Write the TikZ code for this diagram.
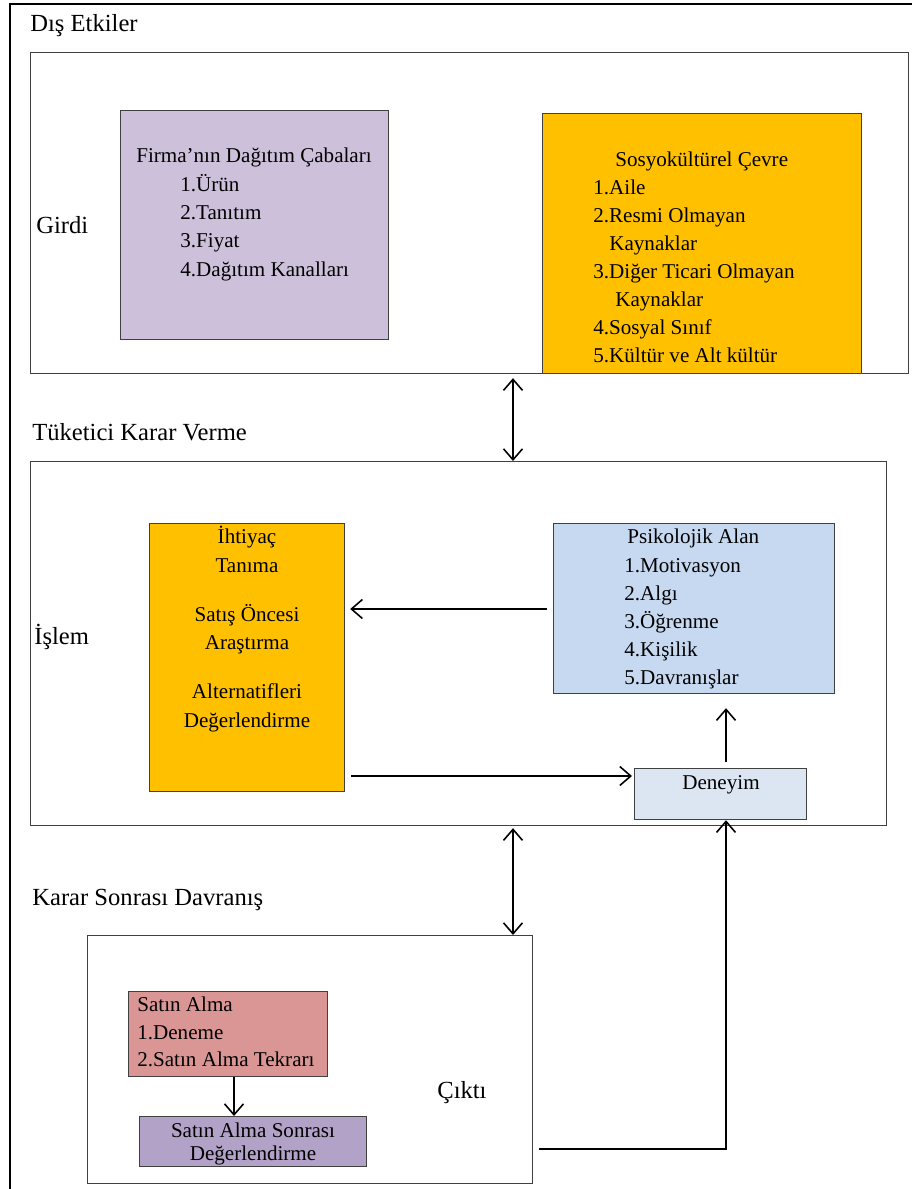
\documentclass[tikz,border=0pt]{standalone}
\usepackage{fontspec}
\setmainfont{Liberation Serif}
\usetikzlibrary{arrows.meta}
\definecolor{kenar}{HTML}{404040}
\definecolor{lila}{HTML}{CCC0DA}
\definecolor{turuncu}{HTML}{FFC000}
\definecolor{mavi}{HTML}{C6D9F1}
\definecolor{acikmavi}{HTML}{DCE6F2}
\definecolor{gul}{HTML}{DA9694}
\definecolor{mor}{HTML}{B3A2C7}
\tikzset{
  kutu/.style={draw=kenar,line width=0.7pt,anchor=north west,inner sep=0pt},
  yazi/.style={font=\fontsize{12}{15}\selectfont,inner sep=0pt,anchor=base west},
  baslik/.style={font=\fontsize{14}{17}\selectfont,inner sep=0pt,anchor=base west},
  ok/.style={-{Straight Barb[length=2.2mm,width=3.8mm]},line width=0.9pt},
  cift/.style={{Straight Barb[length=2.2mm,width=3.8mm]}-{Straight Barb[length=2.2mm,width=3.8mm]},line width=0.9pt}
}
\begin{document}
\begin{tikzpicture}[x=0.02cm,y=-0.02cm]
    \useasboundingbox (0,0) rectangle (912,1189);
    \draw[line width=1.7pt] (10,1200) -- (10,4) -- (930,4);
    % kutular
    \node[kutu,minimum width=17.56cm,minimum height=6.42cm] (dis) at (30,52) {};
    \node[kutu,fill=lila,minimum width=5.36cm,minimum height=4.58cm] (firma) at (120,110) {};
    \node[kutu,fill=turuncu,minimum width=6.38cm,minimum height=5.2cm] (sosyo) at (542,113) {};
    \node[kutu,minimum width=17.12cm,minimum height=7.28cm] (tuketici) at (30,461) {};
    \node[kutu,fill=turuncu,minimum width=3.9cm,minimum height=5.36cm] (ihtiyac) at (149,523) {};
    \node[kutu,fill=mavi,minimum width=5.62cm,minimum height=3.4cm] (psik) at (553,523) {};
    \node[kutu,fill=acikmavi,minimum width=3.44cm,minimum height=1.02cm] (deneyim) at (634,768) {};
    \node[kutu,minimum width=8.9cm,minimum height=4.96cm] (karar) at (87,935) {};
    \node[kutu,fill=gul,minimum width=3.98cm,minimum height=1.7cm] (satin) at (128,991) {};
    \node[kutu,fill=mor,minimum width=4.54cm,minimum height=1.0cm] (sonra) at (139,1116) {};
    % basliklar
    \node[baslik] (b1) at (30,32) {Dış Etkiler};
    \node[baslik] (b2) at (36,234) {Girdi};
    \node[baslik] (b3) at (32,440) {Tüketici Karar Verme};
    \node[baslik] (b4) at (34,644) {İşlem};
    \node[baslik] (b5) at (32,905) {Karar Sonrası Davranış};
    \node[baslik] (b6) at (437,1098) {Çıktı};
    % kutu yazilari
    \node[yazi,anchor=base] (f0) at (254,163) {Firma’nın Dağıtım Çabaları};
    \foreach \t [count=\i] in {1.Ürün,2.Tanıtım,3.Fiyat,4.Dağıtım Kanalları}
      \node[yazi] (f\i) at (180,164+28*\i) {\t};
    \node[yazi] (s0) at (615,167) {Sosyokültürel Çevre};
    \foreach \x/\t [count=\i] in {593/1.Aile,593/2.Resmi Olmayan,609/Kaynaklar,
      593/3.Diğer Ticari Olmayan,615/Kaynaklar,593/4.Sosyal Sınıf,593/5.Kültür ve Alt kültür}
      \node[yazi] (s\i) at (\x,166+28.1*\i) {\t};
    \foreach \y/\t [count=\i] in {543/İhtiyaç,572/Tanıma,621/Satış Öncesi,649/Araştırma,
      698/Alternatifleri,727/Değerlendirme}
      \node[yazi,anchor=base] (i\i) at (247,\y) {\t};
    \node[yazi] (p0) at (627,543) {Psikolojik Alan};
    \foreach \t [count=\i] in {1.Motivasyon,2.Algı,3.Öğrenme,4.Kişilik,5.Davranışlar}
      \node[yazi] (p\i) at (624,544+28*\i) {\t};
    \node[yazi,anchor=base] (d0) at (721,789) {Deneyim};
    \foreach \t [count=\i] in {Satın Alma,1.Deneme,2.Satın Alma Tekrarı}
      \node[yazi] (a\i) at (137,984+27.5*\i) {\t};
    \node[yazi,anchor=base] (c1) at (253,1137) {Satın Alma Sonrası};
    \node[yazi,anchor=base] (c2) at (253,1160) {Değerlendirme};
    % oklar
    \coordinate (xa) at (513,0);
    \coordinate (xb) at (726,0);
    \coordinate (xc) at (234,0);
    \coordinate (ya) at (0,609);
    \coordinate (yb) at (0,776);
    \coordinate (yc) at (0,1149);
    \draw[cift,shorten <=0.8mm] (dis.south -| xa) -- (tuketici.north -| xa);
    \draw[cift,shorten <=0.4mm] (tuketici.south -| xa) -- (karar.north -| xa);
    \draw[ok,shorten <=1.2mm,shorten >=1mm] (psik.west |- ya) -- (ihtiyac.east |- ya);
    \draw[ok,shorten <=1.2mm,shorten >=0.4mm] (ihtiyac.east |- yb) -- (deneyim.west |- yb);
    \draw[ok,shorten <=1.2mm,shorten >=2.8mm] (deneyim.north -| xb) -- (psik.south -| xb);
    \draw[ok] (satin.south -| xc) -- (sonra.north -| xc);
    \draw[ok,shorten <=1.2mm] (karar.east |- yc) -| (deneyim.south -| xb);
\end{tikzpicture}
\end{document}
